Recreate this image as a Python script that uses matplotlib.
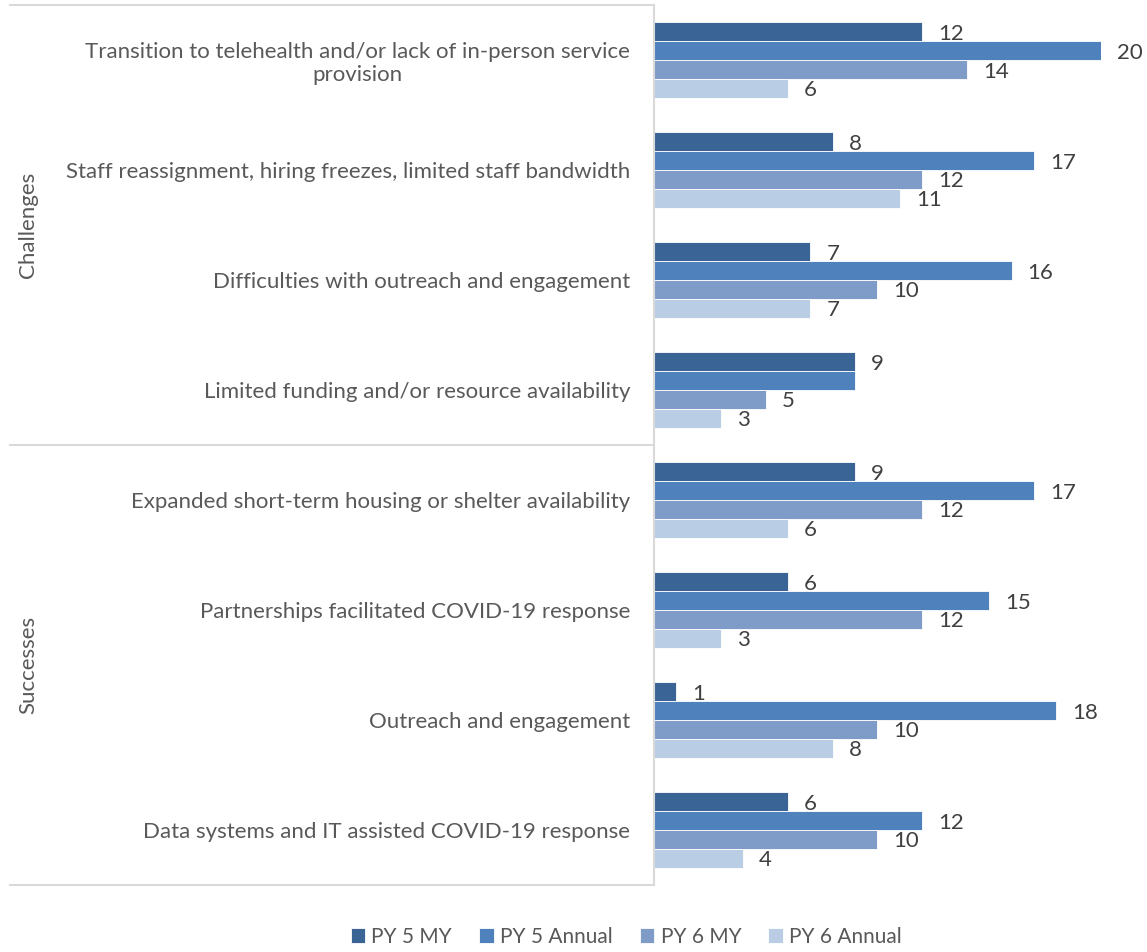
import matplotlib.pyplot as plt
import matplotlib.transforms as mtransforms
from matplotlib.lines import Line2D
import numpy as np

plt.rcParams['font.family'] = ['Lato', 'DejaVu Sans']

# data
categories = [
    'Transition to telehealth and/or lack of in-person service\nprovision',
    'Staff reassignment, hiring freezes, limited staff bandwidth',
    'Difficulties with outreach and engagement',
    'Limited funding and/or resource availability',
    'Expanded short-term housing or shelter availability',
    'Partnerships facilitated COVID-19 response',
    'Outreach and engagement',
    'Data systems and IT assisted COVID-19 response',
]
groups = ['Challenges', 'Successes']
group_sizes = [4, 4]
series_names = ['PY 5 MY', 'PY 5 Annual', 'PY 6 MY', 'PY 6 Annual']
py5_my = [12, 8, 7, 9, 9, 6, 1, 6]
py5_annual = [20, 17, 16, 9, 17, 15, 18, 12]
py6_my = [14, 12, 10, 5, 12, 12, 10, 10]
py6_annual = [6, 11, 7, 3, 6, 3, 8, 4]
# label Excel hid because it overlapped the one above it
hidden_labels = [(1, 3)]

colors = ['#3B6496', '#4F81BD', '#7F9CC9', '#B9CDE5']
series = [py5_my, py5_annual, py6_my, py6_annual]

fig = plt.figure(figsize=(11.47, 9.52), dpi=100)
ax = fig.add_axes([0.570, 0.0704, 0.390, 0.9243])

y = np.arange(len(categories))
h = 0.172
for i, (vals, c, name) in enumerate(zip(series, colors, series_names)):
    pos = y - 1.5 * h + i * h
    ax.barh(pos, vals, height=h, color=c, label=name,
            edgecolor='white', linewidth=0.6)
    for j, (p, v) in enumerate(zip(pos, vals)):
        if (i, j) in hidden_labels:
            continue
        ax.annotate(str(v), (v, p), xytext=(16, -2), textcoords='offset pixels',
                    va='center', ha='left', fontsize=16, color='#404040')

ax.set_xlim(0, 20)
ax.set_ylim(len(categories) - 0.5, -0.5)
ax.set_yticks(y)
ax.set_yticklabels(categories, fontsize=16, color='#595959',
                   multialignment='center')
ax.tick_params(axis='y', length=0, pad=17)
ax.xaxis.set_visible(False)
for s in ['top', 'right', 'bottom']:
    ax.spines[s].set_visible(False)
ax.spines['left'].set_color('#D9D9D9')
ax.spines['left'].set_linewidth(1.5)

# group separators and labels
trans = mtransforms.blended_transform_factory(fig.transFigure, ax.transData)
edges = np.concatenate([[0], np.cumsum(group_sizes)]) - 0.5
for e in edges:
    fig.add_artist(Line2D([10 / 1147, 0.570], [e, e], transform=trans,
                          color='#D9D9D9', linewidth=1.5))
for g, a, b in zip(groups, edges[:-1], edges[1:]):
    fig.text(28 / 1147, (a + b) / 2, g, transform=trans, rotation=90,
             ha='center', va='center', fontsize=16, color='#595959')

fig.legend(loc='center', bbox_to_anchor=(0.546, 1 - 937 / 952), ncol=4,
           frameon=False, fontsize=15, handlelength=0.7, handleheight=0.7,
           handletextpad=0.3, columnspacing=1.3, labelcolor='#595959')

fig.savefig('out.png', dpi=100)
